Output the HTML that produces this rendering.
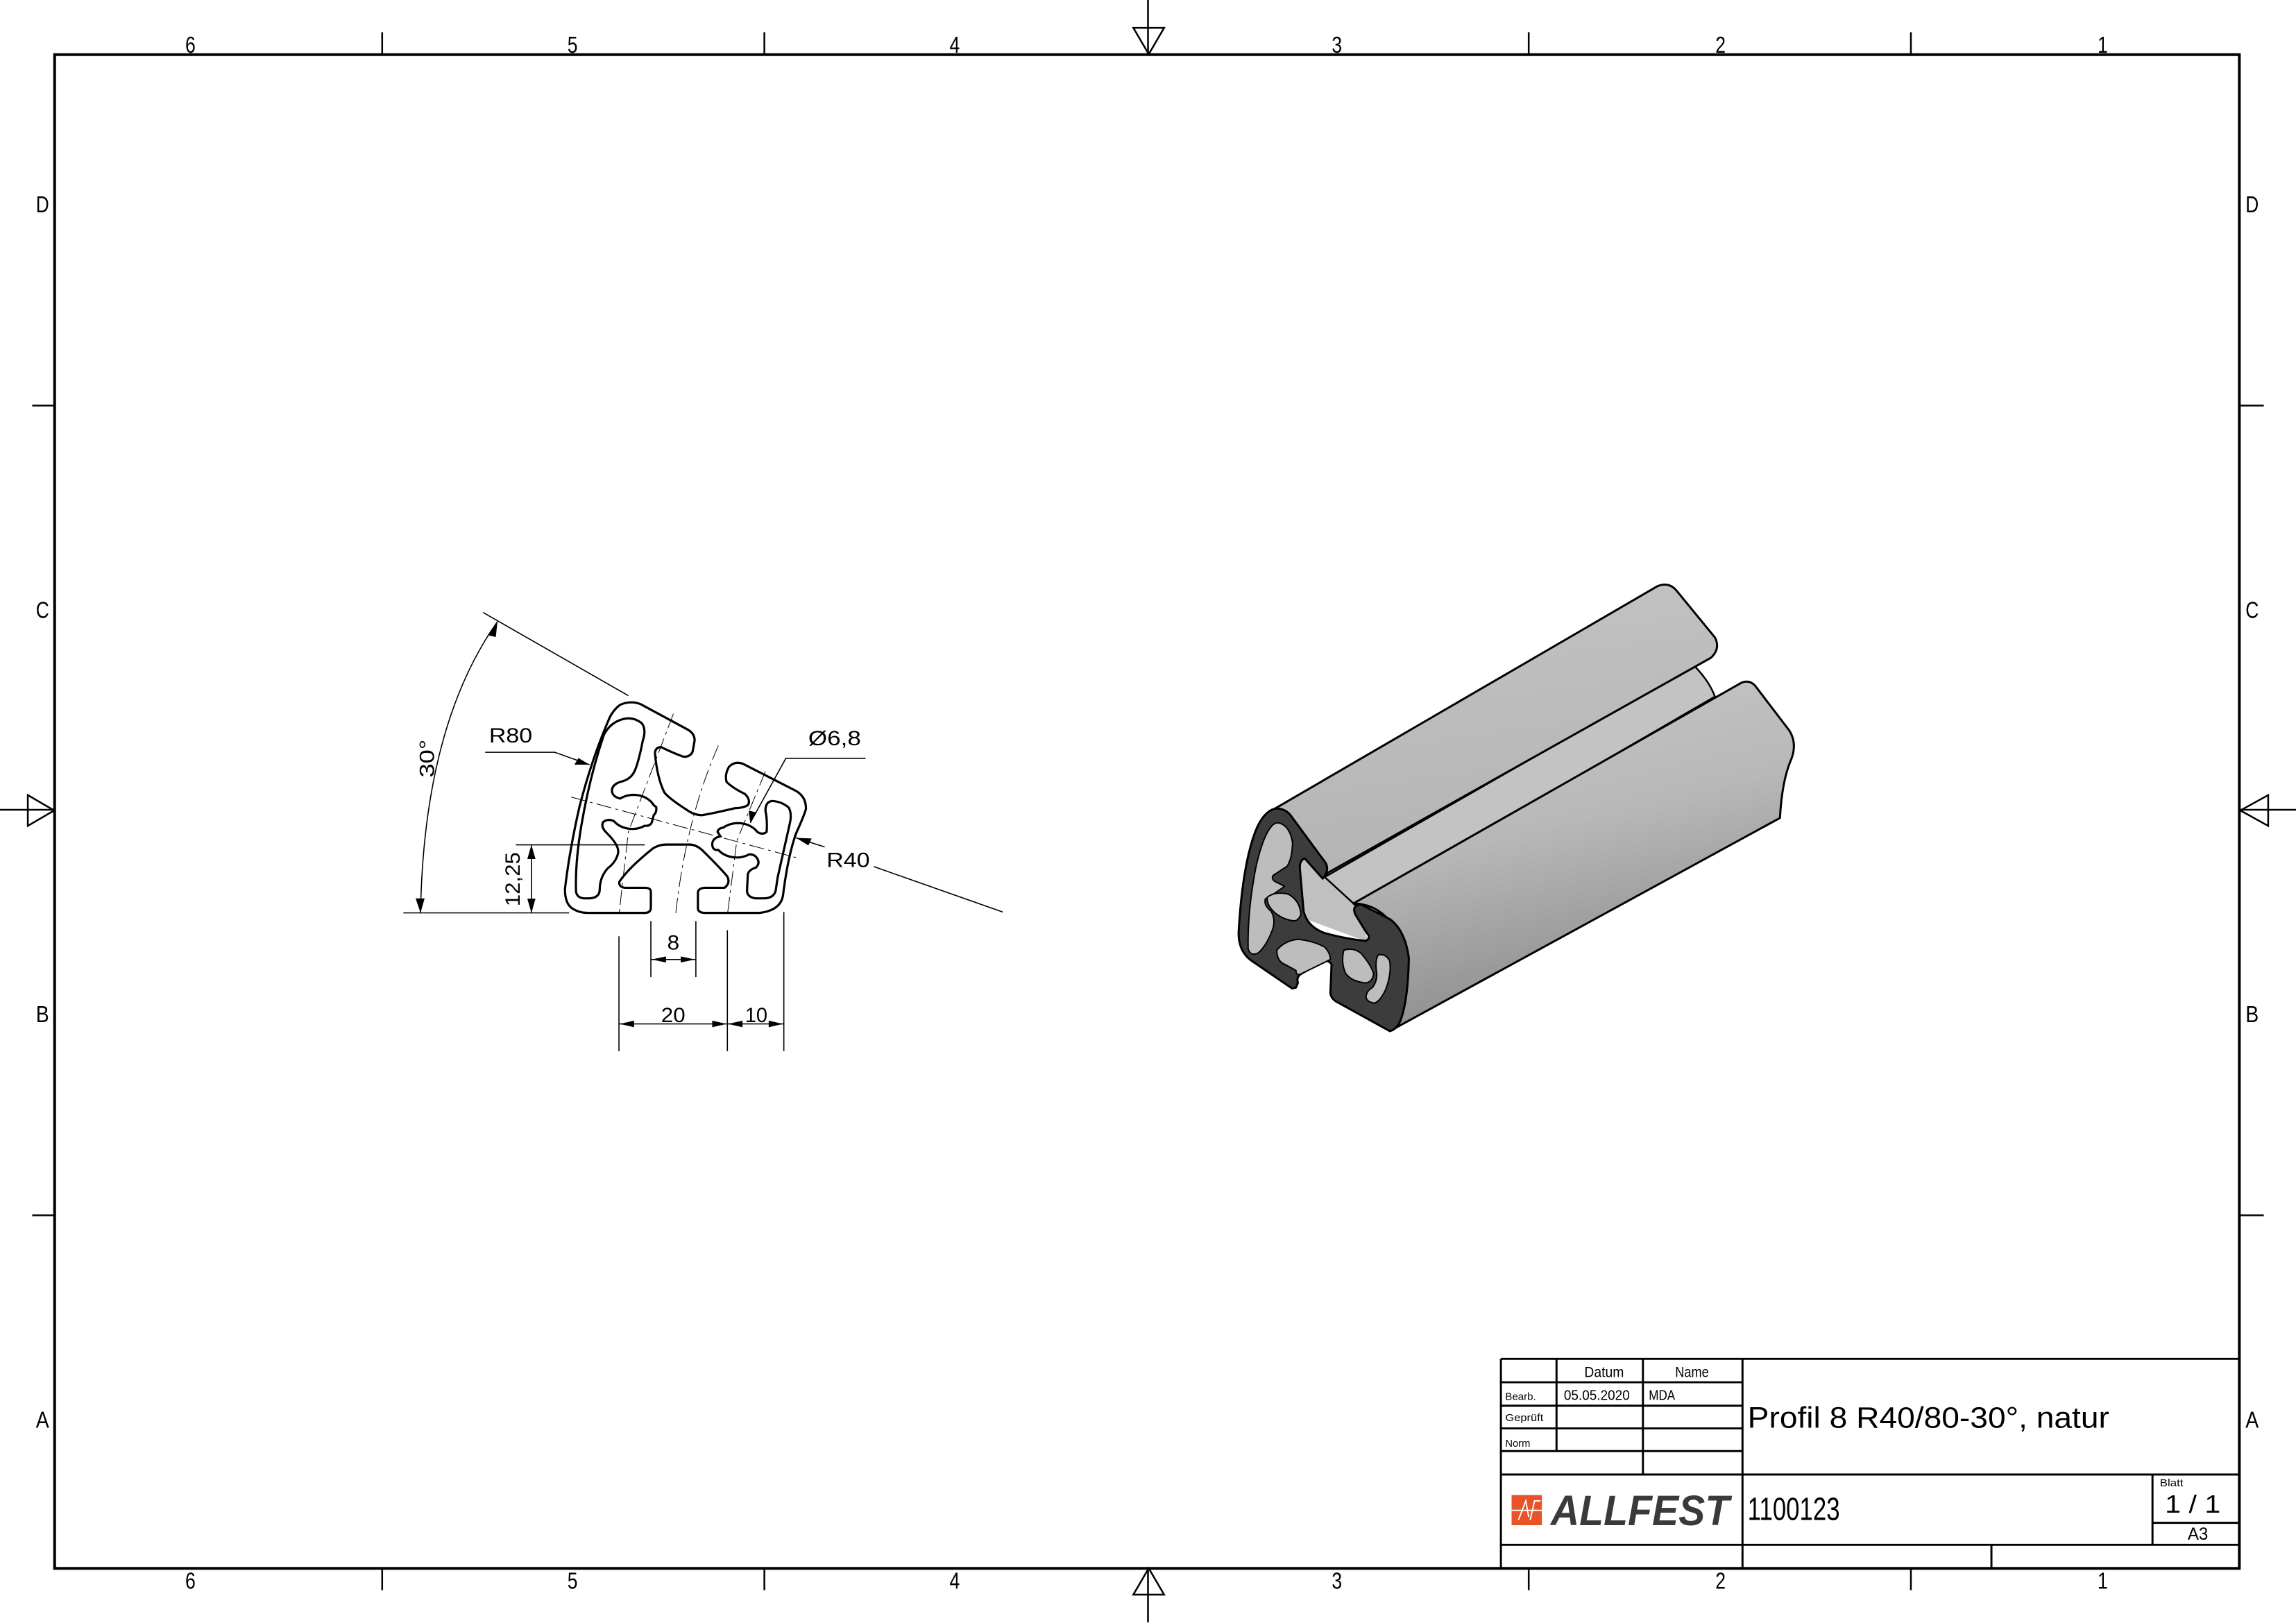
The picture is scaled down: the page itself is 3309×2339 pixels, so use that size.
<!DOCTYPE html>
<html><head><meta charset="utf-8"><style>
html,body{margin:0;padding:0;background:#fff}
svg{display:block}
text{font-family:"Liberation Sans",sans-serif;fill:#000}
</style></head><body>
<svg width="3309" height="2339" viewBox="0 0 1568 1108.4" preserveAspectRatio="none" xmlns="http://www.w3.org/2000/svg">
<defs>
<linearGradient id="gBar" x1="0" y1="0" x2="0.3" y2="1">
<stop offset="0" stop-color="#c9c9c9"/><stop offset="0.5" stop-color="#b8b8b8"/><stop offset="1" stop-color="#8c8c8c"/></linearGradient>
<linearGradient id="gTop" x1="0" y1="0" x2="0.2" y2="1">
<stop offset="0" stop-color="#c4c4c4"/><stop offset="1" stop-color="#b4b4b4"/></linearGradient>
</defs>
<rect width="1568" height="1108.4" fill="#fff"/>
<!-- frame -->
<rect x="37.3" y="37.3" width="1492" height="1033.8" fill="none" stroke="#000" stroke-width="1.9"/>
<g stroke="#000" stroke-width="1.2" fill="none">
<line x1="261" y1="22" x2="261" y2="37"/><line x1="522" y1="22" x2="522" y2="37"/><line x1="1044" y1="22" x2="1044" y2="37"/><line x1="1305" y1="22" x2="1305" y2="37"/>
<line x1="261" y1="1071" x2="261" y2="1086"/><line x1="522" y1="1071" x2="522" y2="1086"/><line x1="1044" y1="1071" x2="1044" y2="1086"/><line x1="1305" y1="1071" x2="1305" y2="1086"/>
<line x1="22" y1="277" x2="37" y2="277"/><line x1="22" y1="830" x2="37" y2="830"/>
<line x1="1530" y1="277" x2="1546" y2="277"/><line x1="1530" y1="830" x2="1546" y2="830"/>
<line x1="784" y1="0" x2="784" y2="37"/><polygon points="774,19 795,19 784.5,37"/>
<line x1="784" y1="1071" x2="784" y2="1108"/><polygon points="774,1089 795,1089 784.5,1071"/>
<line x1="0" y1="553" x2="37" y2="553"/><polygon points="19,543 19,564 37,553.5"/>
<line x1="1530" y1="553" x2="1568" y2="553"/><polygon points="1549,543 1549,564 1530,553.5"/>
</g>
<g font-size="16" text-anchor="middle">
<text x="130" y="36" textLength="7" lengthAdjust="spacingAndGlyphs">6</text><text x="391" y="36" textLength="7" lengthAdjust="spacingAndGlyphs">5</text><text x="652" y="36" textLength="7" lengthAdjust="spacingAndGlyphs">4</text><text x="913" y="36" textLength="7" lengthAdjust="spacingAndGlyphs">3</text><text x="1175" y="36" textLength="7" lengthAdjust="spacingAndGlyphs">2</text><text x="1436" y="36" textLength="7" lengthAdjust="spacingAndGlyphs">1</text>
<text x="130" y="1085" textLength="7" lengthAdjust="spacingAndGlyphs">6</text><text x="391" y="1085" textLength="7" lengthAdjust="spacingAndGlyphs">5</text><text x="652" y="1085" textLength="7" lengthAdjust="spacingAndGlyphs">4</text><text x="913" y="1085" textLength="7" lengthAdjust="spacingAndGlyphs">3</text><text x="1175" y="1085" textLength="7" lengthAdjust="spacingAndGlyphs">2</text><text x="1436" y="1085" textLength="7" lengthAdjust="spacingAndGlyphs">1</text>
<text x="29" y="145" textLength="9" lengthAdjust="spacingAndGlyphs">D</text><text x="29" y="422" textLength="9" lengthAdjust="spacingAndGlyphs">C</text><text x="29" y="698" textLength="9" lengthAdjust="spacingAndGlyphs">B</text><text x="29" y="975" textLength="9" lengthAdjust="spacingAndGlyphs">A</text>
<text x="1538" y="145" textLength="9" lengthAdjust="spacingAndGlyphs">D</text><text x="1538" y="422" textLength="9" lengthAdjust="spacingAndGlyphs">C</text><text x="1538" y="698" textLength="9" lengthAdjust="spacingAndGlyphs">B</text><text x="1538" y="975" textLength="9" lengthAdjust="spacingAndGlyphs">A</text>
</g>
<!-- title block -->
<g stroke="#000" stroke-width="1.4" fill="none">
<line x1="1025" y1="928" x2="1530" y2="928"/>
<line x1="1025" y1="928" x2="1025" y2="1071"/>
<line x1="1025" y1="944" x2="1190" y2="944"/>
<line x1="1025" y1="960" x2="1190" y2="960"/>
<line x1="1025" y1="975.5" x2="1190" y2="975.5"/>
<line x1="1025" y1="991" x2="1190" y2="991"/>
<line x1="1025" y1="1007" x2="1530" y2="1007"/>
<line x1="1025" y1="1055" x2="1530" y2="1055"/>
<line x1="1063" y1="928" x2="1063" y2="991"/>
<line x1="1122" y1="928" x2="1122" y2="1007"/>
<line x1="1190" y1="928" x2="1190" y2="1071"/>
<line x1="1470" y1="1007" x2="1470" y2="1055"/>
<line x1="1470" y1="1040" x2="1530" y2="1040"/>
<line x1="1360" y1="1055" x2="1360" y2="1071"/>
</g>
<text x="1082" y="940.3" font-size="10" textLength="27" lengthAdjust="spacingAndGlyphs">Datum</text>
<text x="1144" y="940.3" font-size="10" textLength="23" lengthAdjust="spacingAndGlyphs">Name</text>
<text x="1028" y="956" font-size="7" textLength="21" lengthAdjust="spacingAndGlyphs">Bearb.</text>
<text x="1068" y="956" font-size="9.5" textLength="45" lengthAdjust="spacingAndGlyphs">05.05.2020</text>
<text x="1126" y="956" font-size="9.5" textLength="18" lengthAdjust="spacingAndGlyphs">MDA</text>
<text x="1028" y="970.5" font-size="7" textLength="26" lengthAdjust="spacingAndGlyphs">Geprüft</text>
<text x="1028" y="988" font-size="7" textLength="17" lengthAdjust="spacingAndGlyphs">Norm</text>
<text x="1193.5" y="975" font-size="20" textLength="247" lengthAdjust="spacingAndGlyphs">Profil 8 R40/80-30°, natur</text>
<text x="1193.5" y="1038" font-size="22" textLength="63" lengthAdjust="spacingAndGlyphs">1100123</text>
<text x="1475" y="1015" font-size="7" textLength="16" lengthAdjust="spacingAndGlyphs">Blatt</text>
<text x="1478.5" y="1033" font-size="17" textLength="38" lengthAdjust="spacingAndGlyphs">1 / 1</text>
<text x="1494" y="1051.5" font-size="12" textLength="14" lengthAdjust="spacingAndGlyphs">A3</text>
<rect x="1032.3" y="1021" width="20.7" height="20.6" fill="#e8532a"/>
<g stroke="#fff" stroke-width="0.9" fill="none"><line x1="1032" y1="1031.5" x2="1053" y2="1031.5"/><path d="M1037,1038 L1042,1025 L1044,1036 M1045,1038 L1048,1025 L1052,1025 M1046.5,1031.5 L1050,1031.5"/></g>
<text x="1059" y="1041.6" font-size="29" font-weight="bold" font-style="italic" fill="#3a3a3a" style="fill:#3a3a3a" textLength="122" lengthAdjust="spacingAndGlyphs">ALLFEST</text>

<!-- 2D profile drawing -->
<g transform="matrix(0.2794 0 0 0.2066 255.9 402.8)" fill="none" stroke="#000">
<line x1="265" y1="75" x2="620" y2="350" vector-effect="non-scaling-stroke" stroke-width="1.6"/>
<line x1="70" y1="1068" x2="475" y2="1068" vector-effect="non-scaling-stroke" stroke-width="1.6"/>
<path d="M112,1068 Q120,450 300,105" vector-effect="non-scaling-stroke" stroke-width="1.6"/>
<line x1="345" y1="843" x2="660" y2="843" vector-effect="non-scaling-stroke" stroke-width="1.6"/>
<line x1="383" y1="843" x2="383" y2="1068" vector-effect="non-scaling-stroke" stroke-width="1.6"/>
<line x1="675" y1="1095" x2="675" y2="1280" vector-effect="non-scaling-stroke" stroke-width="1.6"/>
<line x1="785" y1="1095" x2="785" y2="1280" vector-effect="non-scaling-stroke" stroke-width="1.6"/>
<line x1="675" y1="1222" x2="785" y2="1222" vector-effect="non-scaling-stroke" stroke-width="1.6"/>
<line x1="597" y1="1145" x2="597" y2="1525" vector-effect="non-scaling-stroke" stroke-width="1.6"/>
<line x1="862" y1="1125" x2="862" y2="1525" vector-effect="non-scaling-stroke" stroke-width="1.6"/>
<line x1="1000" y1="1065" x2="1000" y2="1525" vector-effect="non-scaling-stroke" stroke-width="1.6"/>
<line x1="597" y1="1435" x2="1000" y2="1435" vector-effect="non-scaling-stroke" stroke-width="1.6"/>
<polyline points="270,537 440,537 525,578" vector-effect="non-scaling-stroke" stroke-width="1.6"/>
<polyline points="1200,557 1005,557 918,770" vector-effect="non-scaling-stroke" stroke-width="1.6"/>
<line x1="1030" y1="820" x2="1100" y2="850" vector-effect="non-scaling-stroke" stroke-width="1.6"/>
<line x1="1220" y1="915" x2="1535" y2="1065" vector-effect="non-scaling-stroke" stroke-width="1.6"/>
<g fill="#000" stroke="none">
<polygon points="112,1068 100,1020 122,1020"/>
<polygon points="300,105 276,150 296,156"/>
<polygon points="383,843 373,890 393,890"/>
<polygon points="383,1068 373,1021 393,1021"/>
<polygon points="677,1222 712,1212 712,1232"/>
<polygon points="783,1222 748,1212 748,1232"/>
<polygon points="599,1435 634,1424 634,1446"/>
<polygon points="860,1435 825,1424 825,1446"/>
<polygon points="864,1435 899,1424 899,1446"/>
<polygon points="998,1435 963,1424 963,1446"/>
<polygon points="525,578 488,578 498,556"/>
<polygon points="918,770 914,730 934,736"/>
<polygon points="1030,820 1068,822 1060,845"/>
</g>
<g stroke-width="1" stroke-dasharray="22 6 4 6">
<path d="M480,685 L1030,885" vector-effect="non-scaling-stroke"/>
<path d="M840,515 Q760,760 735,1080" vector-effect="non-scaling-stroke"/>
<path d="M730,410 L620,800 L597,1075" vector-effect="non-scaling-stroke"/>
<path d="M955,600 L885,830 L862,1075" vector-effect="non-scaling-stroke"/>
</g>
<path stroke-width="3.2" vector-effect="non-scaling-stroke" d="M520,1068 L660,1068 Q675,1068 675,1050 L675,998 Q675,985 660,985 L612,985 Q596,983 598,965 Q620,920 680,855 Q695,842 712,842 L770,842 Q785,842 800,860 Q845,920 862,948 Q870,970 855,985 L806,985 Q790,987 790,1002 L790,1055 Q792,1068 808,1068 L940,1068 Q992,1060 998,1010 Q1010,880 1030,805 Q1050,745 1054,725 Q1055,685 1030,665 L900,575 Q880,565 866,585 Q855,610 860,635 Q875,655 905,675 Q920,695 912,712 Q900,722 880,722 Q830,738 800,745 Q780,745 760,725 Q720,690 708,670 Q690,620 685,540 Q686,520 700,520 Q730,540 755,552 Q772,552 777,535 L782,498 Q782,475 765,462 L650,378 Q625,365 600,380 Q585,395 575,420 Q530,560 500,720 Q475,870 465,990 Q465,1040 485,1055 Q500,1068 520,1068 Z"/>
<path stroke-width="3.2" vector-effect="non-scaling-stroke" d="M605,428 Q630,418 652,440 Q665,460 655,500 Q645,570 635,600 Q625,628 600,635 Q578,645 580,668 Q583,685 600,690 A55,62 0 0 1 682,712 L688,718 Q690,735 682,745 L677,770 Q672,782 660,780 A55,62 0 0 1 585,765 Q570,755 558,768 Q552,785 568,805 Q598,845 595,870 Q590,900 570,920 Q550,950 550,990 Q550,1018 525,1020 L512,1020 Q493,1018 492,995 Q490,900 505,780 Q525,620 560,480 Q575,440 605,428 Z"/>
<path stroke-width="3.2" vector-effect="non-scaling-stroke" d="M972,698 Q995,700 1012,720 Q1020,740 1015,770 Q1000,860 985,950 L980,995 Q975,1020 950,1020 L930,1020 Q910,1015 910,995 L912,940 Q915,925 932,918 Q945,900 930,880 Q918,870 910,878 A55,60 0 0 1 840,860 Q825,862 825,840 Q826,820 845,815 L838,800 Q840,788 852,786 A55,60 0 0 1 935,800 Q948,812 958,800 Q960,760 955,730 Q955,700 972,698 Z"/>
</g>
<g font-size="14">
<text x="334" y="507" textLength="29.5" lengthAdjust="spacingAndGlyphs">R80</text>
<text x="552" y="509" textLength="36" lengthAdjust="spacingAndGlyphs">Ø6,8</text>
<text x="564.5" y="592" textLength="29.5" lengthAdjust="spacingAndGlyphs">R40</text>
<text x="455.7" y="648.5" textLength="8.3" lengthAdjust="spacingAndGlyphs">8</text>
<text x="451.5" y="698" textLength="16.5" lengthAdjust="spacingAndGlyphs">20</text>
<text x="508.8" y="698" textLength="15.3" lengthAdjust="spacingAndGlyphs">10</text>
<text transform="translate(296.5,531) rotate(-90)" textLength="26" lengthAdjust="spacingAndGlyphs">30°</text>
<text transform="translate(355,619) rotate(-90)" textLength="37" lengthAdjust="spacingAndGlyphs">12,25</text>
</g>

<!-- 3D isometric profile -->
<g transform="matrix(0.2613 0 0 0.2125 834.1 388.6)" stroke="#000" stroke-linejoin="round">
<path fill="#c0c0c0" stroke="none" d="M175,790 L280,975 L350,1080 L385,1200 L210,1120 L200,930 Z"/>
<path fill="#c3c3c3" stroke-width="2.5" vector-effect="non-scaling-stroke" d="M270,990 L1235,310 Q1275,360 1290,410 L350,1080 Z"/>
<path fill="url(#gTop)" stroke-width="3" vector-effect="non-scaling-stroke" d="M140,770 L1140,55 Q1170,40 1190,70 L1290,220 Q1305,255 1280,285 L280,975 Q270,985 262,990 L175,790 Q160,768 140,770 Z"/>
<path fill="url(#gBar)" stroke-width="3" vector-effect="non-scaling-stroke" d="M345,1075 L1360,365 Q1380,355 1395,375 L1485,520 Q1505,560 1490,610 Q1465,680 1460,800 L440,1485 Q400,1420 440,1130 Q400,1075 345,1075 Z"/>
<path fill="#3c3c3c" stroke-width="3" vector-effect="non-scaling-stroke" d="M140,770 Q165,768 180,790 L270,940 Q285,965 265,995 L218,930 Q205,935 205,960 L215,1100 Q225,1150 270,1170 Q330,1190 378,1195 Q392,1185 380,1170 L350,1110 Q340,1080 365,1078 L440,1125 Q480,1160 490,1250 Q488,1380 470,1445 Q460,1480 440,1485 L300,1390 Q285,1378 285,1360 L288,1270 Q280,1255 265,1262 L210,1300 Q195,1310 200,1330 L195,1345 L185,1348 L80,1260 Q45,1230 45,1170 Q55,950 90,840 Q110,780 140,770 Z"/>
<g fill="#bdbdbd" stroke-width="2">
<path vector-effect="non-scaling-stroke" d="M155,818 Q180,830 186,880 Q185,930 172,955 L135,985 Q128,1000 150,1010 L165,1020 L130,1050 L115,1060 Q110,1080 130,1100 Q145,1130 130,1170 Q115,1215 95,1235 Q75,1245 70,1220 Q68,1100 90,960 Q110,850 135,822 Q145,812 155,818 Z"/>
<path vector-effect="non-scaling-stroke" d="M120,1055 Q140,1035 175,1045 Q205,1065 208,1110 Q200,1135 185,1130 Q160,1125 140,1105 Q118,1080 120,1055 Z"/>
<path vector-effect="non-scaling-stroke" d="M145,1225 Q165,1195 200,1190 Q240,1195 270,1215 Q285,1235 285,1255 L210,1300 Q195,1310 195,1290 L165,1270 Q145,1260 145,1225 Z"/>
<path vector-effect="non-scaling-stroke" d="M320,1225 Q345,1215 365,1235 Q390,1270 398,1300 Q395,1330 375,1330 Q340,1325 325,1300 Q312,1265 320,1225 Z"/>
<path vector-effect="non-scaling-stroke" d="M410,1240 Q430,1235 440,1260 Q445,1300 430,1350 Q415,1390 400,1395 Q380,1392 378,1375 Q380,1355 395,1345 Q410,1320 405,1290 Q402,1255 410,1240 Z"/>
</g>
</g>
</svg>
</body></html>
